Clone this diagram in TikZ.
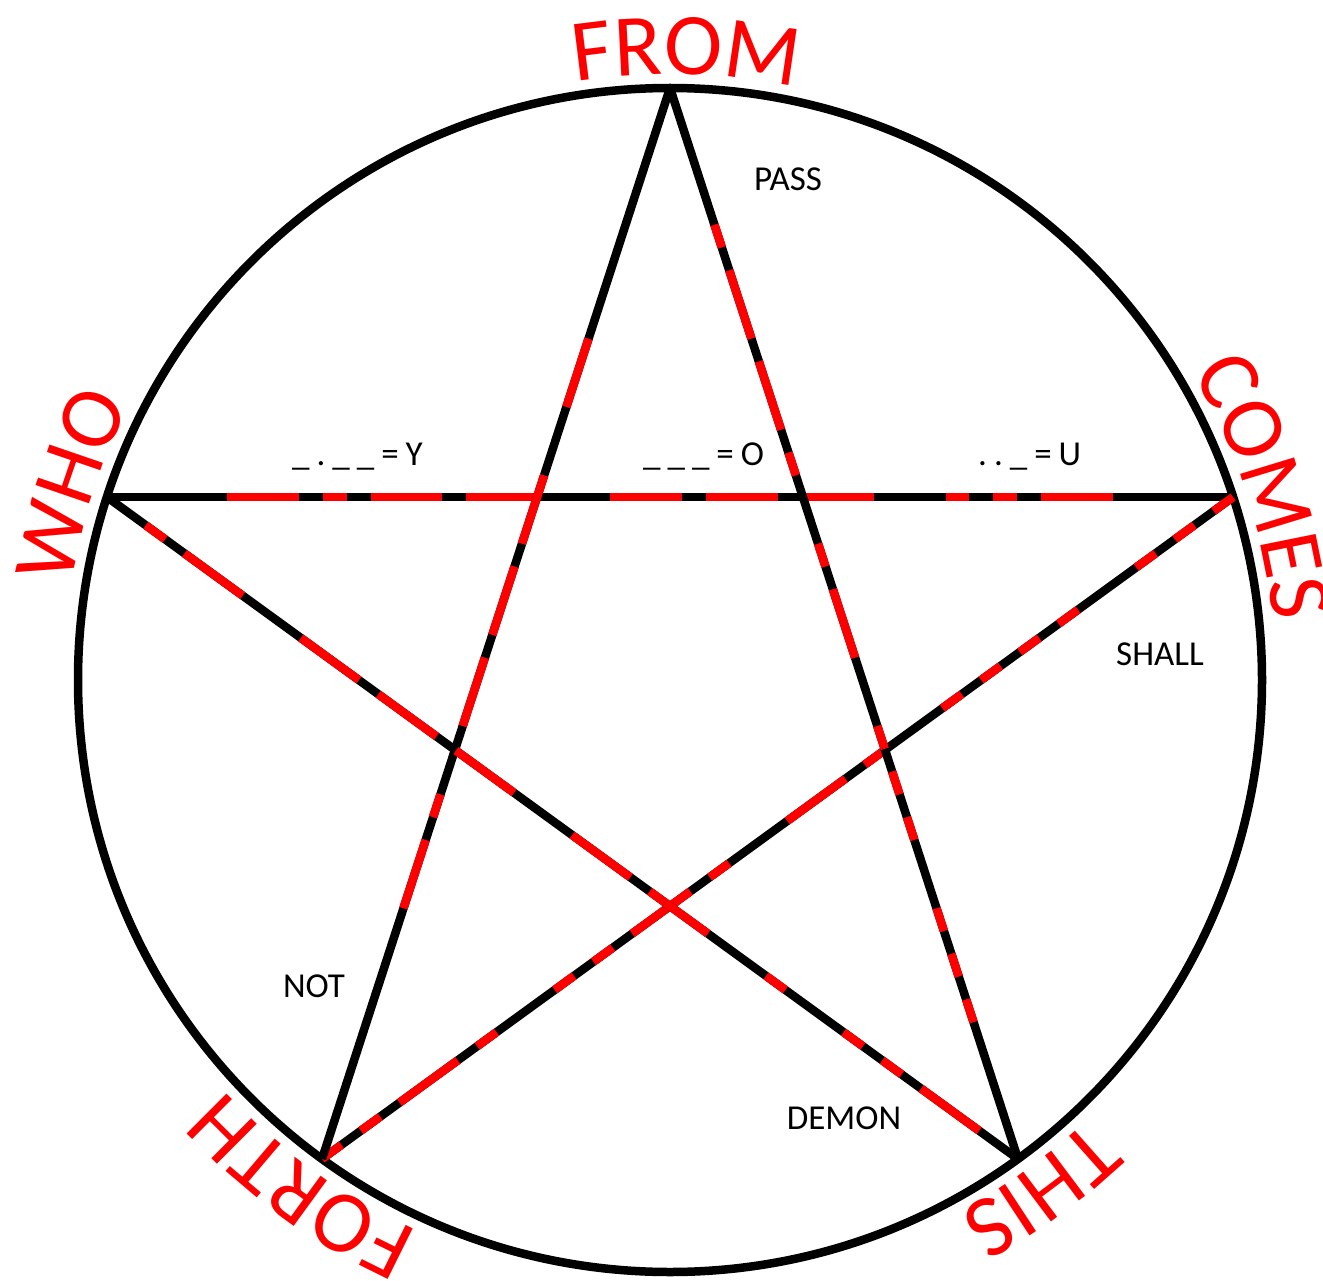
\documentclass[tikz,border=0pt]{standalone}
\usepackage{fontspec}
\setmainfont{Carlito}
\usetikzlibrary{calc,decorations.text}
\newcommand\ks{\kern7pt}
\newcommand\bigred{\fontsize{88}{96}\selectfont\color{red}}
\newcommand\morseline[3]{%
  \draw[blk] (#1) -- (#2);
  \foreach \a/\b in {#3}
    \draw[rd] ($(#1)!{\a/47}!(#2)$) -- ($(#1)!{\b/47}!(#2)$);
}
\newcommand\wordarc[2]{%
  \path[decorate, decoration={text along path, text align=center, text={|\bigred|#2}}]
    ($(C)+({#1+40}:606)$) arc[start angle={#1+40}, end angle={#1-40}, radius=606];
}
\begin{document}
\begin{tikzpicture}[x=1pt,y=1pt,
  blk/.style={line width=8.5pt, draw=black},
  rd/.style={line width=8.5pt, draw=red},
  lbl/.style={font=\fontsize{35}{40}\selectfont, inner sep=0pt, text=black},
  ]
\useasboundingbox (0,0) rectangle (1323,-1281);
\coordinate (C) at (670,-680);
\draw[blk] (C) circle[radius=592];
\coordinate (T)  at ($(C)+(90:592)$);
\coordinate (R)  at ($(C)+(18:592)$);
\coordinate (L)  at ($(C)+(162:592)$);
\coordinate (BL) at ($(C)+(234:592)$);
\coordinate (BR) at ($(C)+(306:592)$);
% YOU
\morseline{L}{R}{5/8, 9/10, 11/14, 15/18, 21/24, 25/28, 29/32, 35/36, 37/38, 39/42}
% SHALL
\morseline{R}{BL}{0/1, 2/3, 4/5, 8/9, 10/11, 12/13, 14/15, 18/19, 20/23, 26/27, 28/31, 32/33, 34/35, 38/39, 40/43, 44/45, 46/47}
% NOT
\morseline{BL}{T}{11/14, 15/16, 19/22, 23/26, 27/30, 33/36}
% PASS
\morseline{T}{BR}{6/7, 8/11, 12/15, 16/17, 20/21, 22/25, 28/29, 30/31, 32/33, 36/37, 38/39, 40/41}
% DEMON
\morseline{BR}{L}{2/5, 6/7, 8/9, 12/13, 16/19, 20/23, 26/29, 30/33, 34/37, 40/43, 44/45}
% outer words
\wordarc{88.5}{FROM}
\wordarc{18}{COMES}
\wordarc{162}{WHO}
\wordarc{234}{FORTH}
\wordarc{306}{THIS}
% labels
\node[lbl] (pass) at (788,-179) {PASS};
\node[lbl] (shall) at (1160,-654) {SHALL};
\node[lbl] (not) at (314,-986) {NOT};
\node[lbl] (demon) at (844,-1118) {DEMON};
\node[lbl, anchor=base west] (my) at (292,-465) {\_\ks.\ks\_\ks\_\ks=\ks Y};
\node[lbl, anchor=base west] (mo) at (643,-465) {\_\ks\_\ks\_\ks=\ks O};
\node[lbl, anchor=base west] (mu) at (978,-465) {.\ks.\ks\_\ks=\ks U};
\end{tikzpicture}
\end{document}
